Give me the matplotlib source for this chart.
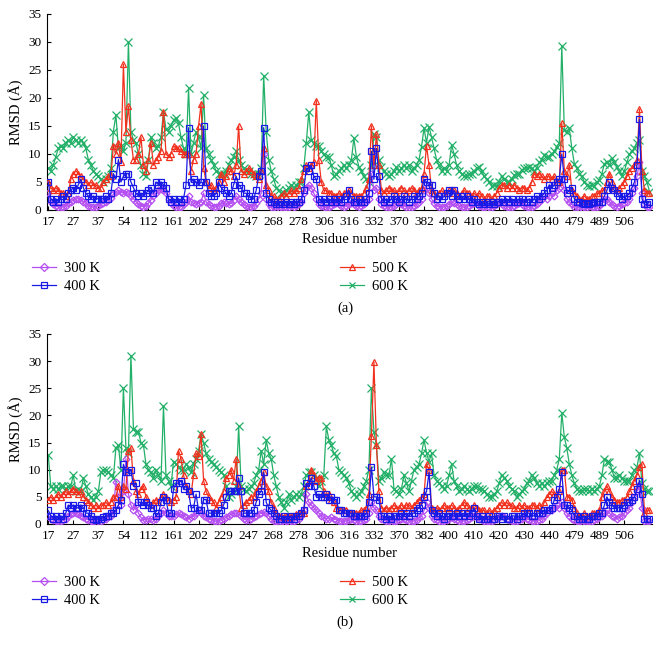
import matplotlib
matplotlib.use("Agg")
import matplotlib.pyplot as plt
import numpy as np

plt.rcParams['font.family'] = ['Liberation Serif', 'DejaVu Serif']

tick_labels = ['17', '27', '37', '54', '112', '161', '202', '229', '247', '268', '278', '306',
               '316', '332', '370', '382', '400', '410', '420', '430', '440', '479', '489', '506']
series_names = ['300 K', '400 K', '500 K', '600 K']

# panel (a)
a_300 = [3.0, 1.5, 1.0, 0.8, 0.6, 0.5, 0.6, 0.8, 1.2, 1.5,
         1.8, 2.0, 2.0, 1.8, 1.5, 1.2, 0.8, 0.6, 0.5, 0.6,
         0.8, 1.0, 1.2, 1.5, 1.8, 2.2, 2.8, 3.2, 3.5, 3.2,
         3.0, 3.3, 3.0, 2.5, 2.0, 1.5, 1.0, 0.8, 0.6, 0.8,
         1.2, 1.8, 2.5, 3.0, 3.5, 3.8, 3.5, 3.0, 2.0, 1.2,
         0.8, 0.6, 0.5, 0.6, 1.0, 1.5, 2.5, 1.5, 1.2, 1.0,
         1.2, 1.5, 3.0, 1.5, 1.0, 0.8, 0.6, 0.5, 0.8, 1.2,
         1.5, 1.2, 1.0, 1.2, 1.8, 2.5, 2.0, 1.5, 1.0, 0.8,
         0.6, 0.5, 0.8, 1.2, 2.0, 3.0, 10.0, 2.0, 1.0, 0.6,
         0.5, 0.4, 0.4, 0.5, 0.6, 0.5, 0.6, 0.8, 0.6, 0.8,
         1.0, 1.5, 3.0, 4.0, 4.5, 4.0, 3.0, 2.0, 1.0, 0.8,
         0.6, 0.5, 0.6, 0.8, 1.0, 1.2, 1.0, 0.8, 0.6, 0.8,
         1.0, 1.2, 1.0, 0.8, 0.6, 0.8, 1.0, 1.5, 2.0, 6.5,
         3.5, 4.0, 2.0, 1.0, 0.8, 0.6, 0.5, 0.6, 0.8, 1.0,
         1.2, 1.0, 0.8, 0.6, 0.5, 0.6, 0.8, 1.0, 1.5, 2.0,
         3.5, 4.0, 3.0, 2.0, 1.2, 0.8, 0.6, 0.5, 0.6, 0.8,
         1.0, 1.5, 1.2, 1.0, 0.8, 0.6, 0.5, 0.6, 0.8, 1.0,
         1.2, 1.0, 0.8, 0.6, 0.5, 0.4, 0.5, 0.6, 0.8, 1.0,
         1.2, 1.0, 0.8, 0.6, 0.5, 0.6, 0.8, 1.0, 1.2, 1.0,
         0.8, 0.6, 0.5, 0.6, 0.8, 1.0, 1.5, 2.0, 2.5, 2.0,
         2.5, 3.0, 2.5, 3.5, 4.0, 5.5, 3.5, 2.0, 1.5, 1.0,
         0.6, 0.5, 0.4, 0.4, 0.5, 0.6, 0.8, 0.6, 0.5, 0.6,
         0.8, 1.2, 2.0, 2.0, 1.5, 1.0, 0.8, 0.6, 0.8, 1.0,
         1.2, 1.5, 2.0, 3.0, 4.0, 6.0, 8.5, 3.0, 1.0, 0.5, 0.5]
a_400 = [5.0, 2.0, 1.5, 2.0, 1.5, 2.0, 2.5, 2.0, 3.0, 3.5,
         4.0, 3.5, 4.5, 5.5, 4.0, 3.0, 2.5, 2.0, 2.5, 2.0,
         2.0, 2.0, 2.0, 2.5, 2.0, 3.0, 6.5, 5.5, 9.0, 5.0,
         6.0, 6.5, 6.5, 5.0, 4.0, 3.0, 2.5, 3.0, 2.5, 3.0,
         3.5, 4.0, 3.0, 5.0, 4.5, 5.0, 4.5, 4.0, 2.0, 1.5,
         2.0, 1.5, 2.0, 1.5, 2.0, 4.5, 14.7, 5.0, 5.5, 5.0,
         4.5, 5.0, 15.0, 5.0, 3.0, 2.5, 2.5, 3.0, 5.0, 4.0,
         3.5, 3.0, 2.5, 3.0, 4.5, 6.0, 4.5, 4.0, 3.0, 3.0,
         2.5, 2.0, 2.0, 3.5, 6.0, 7.0, 14.7, 3.0, 2.0, 1.5,
         1.5, 1.0, 1.0, 1.5, 1.0, 1.5, 1.0, 1.5, 1.0, 1.5,
         1.5, 2.0, 3.5, 7.5, 7.0, 8.0, 6.0, 5.5, 2.0, 1.5,
         2.0, 1.5, 2.0, 1.5, 2.0, 1.5, 2.0, 1.5, 2.0, 2.5,
         3.5, 2.0, 1.5, 1.5, 2.0, 1.5, 1.5, 2.0, 3.0, 10.5,
         5.5, 11.0, 6.0, 2.0, 1.5, 2.0, 1.5, 2.0, 2.5, 2.0,
         1.5, 2.0, 2.5, 2.0, 1.5, 2.0, 2.5, 2.0, 2.5, 3.0,
         5.5, 5.0, 4.5, 4.5, 3.0, 2.0, 2.5, 2.0, 2.5, 3.0,
         3.5, 2.5, 3.5, 2.5, 2.0, 2.5, 2.0, 2.5, 2.0, 1.5,
         2.0, 1.5, 1.0, 1.5, 1.0, 1.5, 1.0, 1.5, 1.0, 1.5,
         1.5, 2.0, 1.5, 2.0, 1.5, 2.0, 1.5, 1.5, 2.0, 2.0,
         1.5, 1.5, 2.0, 1.5, 2.0, 2.5, 2.0, 2.5, 3.0, 3.5,
         4.5, 4.0, 4.5, 5.0, 5.5, 10.0, 5.5, 3.0, 3.5, 4.0,
         2.0, 1.5, 1.5, 1.2, 1.0, 1.2, 1.0, 1.2, 1.5, 1.5,
         1.5, 1.5, 2.5, 3.5, 5.0, 4.0, 3.5, 3.0, 2.5, 2.0,
         2.5, 2.5, 3.0, 4.0, 5.0, 8.0, 16.2, 2.0, 1.0, 1.0, 1.5]
a_500 = [5.0, 4.0, 3.5, 4.0, 3.5, 3.0, 3.0, 2.5, 3.0, 5.5,
         6.5, 7.0, 6.5, 6.0, 5.5, 5.0, 4.5, 5.0, 4.5, 4.5,
         4.0, 4.0, 5.0, 5.5, 6.0, 6.0, 11.5, 10.0, 12.0, 8.5,
         26.0, 14.0, 18.5, 12.5, 9.0, 9.0, 10.0, 13.0, 8.0, 7.0,
         9.0, 12.0, 8.0, 9.0, 9.5, 10.5, 17.5, 10.0, 9.5, 10.0,
         11.5, 11.0, 11.0, 10.5, 10.0, 10.0, 10.0, 7.0, 9.0, 10.0,
         15.0, 19.0, 7.5, 5.0, 4.0, 4.5, 3.5, 4.0, 5.0, 6.5,
         5.0, 6.0, 7.5, 7.0, 6.0, 8.0, 15.0, 7.0, 6.5, 7.0,
         7.5, 7.0, 6.5, 6.0, 5.5, 7.0, 11.0, 4.5, 3.5, 2.5,
         2.5, 2.0, 2.0, 2.5, 3.0, 2.5, 3.0, 3.5, 3.0, 3.5,
         4.0, 5.5, 7.0, 8.0, 7.5, 8.0, 8.5, 19.5, 9.0, 5.0,
         3.5, 3.5, 3.0, 3.0, 2.5, 2.5, 3.0, 2.5, 3.0, 3.0,
         3.5, 3.0, 2.5, 2.5, 2.5, 2.5, 3.0, 4.0, 5.5, 15.0,
         8.0, 13.5, 8.0, 3.5, 3.0, 3.5, 4.0, 3.5, 3.5, 3.0,
         3.5, 4.0, 3.5, 3.0, 3.5, 4.0, 3.5, 3.0, 3.5, 4.0,
         6.5, 11.5, 8.0, 3.5, 3.0, 2.5, 3.0, 3.5, 3.0, 3.0,
         3.5, 3.0, 3.5, 3.0, 2.5, 3.0, 3.5, 3.0, 3.0, 2.5,
         3.0, 2.5, 3.0, 2.5, 2.0, 2.5, 2.5, 2.0, 2.5, 3.0,
         4.0, 4.5, 4.5, 4.0, 4.5, 4.0, 4.5, 4.0, 3.5, 4.0,
         4.0, 3.5, 4.0, 5.0, 6.5, 6.0, 6.5, 6.0, 5.5, 6.0,
         6.0, 5.5, 6.0, 5.0, 5.0, 15.5, 7.0, 6.0, 8.0, 3.5,
         3.0, 2.5, 2.0, 2.0, 2.5, 2.0, 2.0, 2.5, 2.5, 3.0,
         3.0, 3.5, 3.5, 5.0, 6.5, 5.0, 4.0, 3.5, 4.0, 4.5,
         5.0, 6.0, 7.0, 7.5, 8.0, 9.0, 18.0, 7.0, 3.5, 3.0, 3.0]
a_600 = [7.5, 7.0, 8.0, 9.5, 11.0, 11.5, 11.0, 12.0, 12.5, 12.0,
         13.0, 12.5, 12.0, 12.5, 12.0, 11.0, 9.0, 8.0, 7.0, 6.5,
         6.0, 5.5, 5.0, 5.5, 6.0, 7.5, 14.0, 17.0, 11.0, 11.5,
         10.5, 12.0, 30.0, 14.0, 12.5, 12.0, 10.0, 8.0, 6.5, 6.0,
         9.0, 13.0, 12.0, 11.0, 11.5, 13.0, 17.5, 14.5, 14.0, 15.0,
         16.0, 16.5, 15.5, 13.0, 11.0, 10.0, 21.7, 10.0, 12.0, 14.0,
         13.0, 11.0, 20.5, 11.0, 10.0, 9.0, 8.0, 7.0, 6.5, 6.5,
         6.5, 7.0, 8.0, 9.0, 9.5, 10.5, 9.0, 8.0, 7.5, 7.0,
         7.0, 6.5, 6.5, 6.0, 6.5, 7.5, 24.0, 14.0, 9.0, 7.0,
         5.5, 4.0, 3.5, 3.0, 3.0, 3.5, 4.0, 4.5, 4.0, 4.5,
         5.0, 5.0, 7.5, 12.0, 17.5, 12.5, 12.0, 11.5, 11.5, 10.5,
         10.0, 9.5, 9.5, 8.0, 6.0, 6.5, 7.0, 7.5, 8.0, 7.5,
         8.0, 9.0, 12.8, 9.5, 7.7, 7.0, 6.0, 5.5, 5.0, 8.0,
         13.5, 13.0, 9.0, 7.7, 7.0, 6.5, 6.0, 6.5, 7.0, 7.7,
         7.0, 7.5, 8.0, 7.5, 8.0, 7.0, 7.5, 8.0, 9.0, 11.3,
         14.6, 12.0, 14.9, 13.0, 11.0, 9.0, 8.0, 7.0, 7.5, 7.0,
         8.0, 11.6, 10.0, 8.0, 7.0, 6.5, 6.0, 6.0, 6.5, 6.5,
         7.0, 7.5, 7.7, 7.0, 6.0, 5.5, 5.0, 4.2, 4.5, 4.2,
         5.0, 6.0, 5.5, 5.0, 5.0, 5.5, 6.2, 6.5, 6.5, 7.1,
         7.5, 7.5, 7.7, 7.5, 7.0, 7.5, 8.5, 9.0, 9.8, 9.5,
         9.5, 10.0, 10.5, 11.3, 12.0, 29.3, 14.3, 14.0, 14.6, 11.0,
         8.3, 7.5, 6.5, 6.0, 5.0, 4.5, 4.2, 4.5, 4.2, 5.0,
         5.4, 6.5, 8.3, 8.5, 8.0, 9.2, 8.5, 7.7, 7.0, 6.0,
         7.0, 8.5, 10.0, 10.5, 11.0, 12.0, 12.5, 7.0, 6.0, 5.0, 3.3]

# panel (b)
b_300 = [1.5, 1.0, 0.8, 0.6, 0.5, 0.6, 0.8, 1.0, 1.5, 1.8,
         2.0, 2.0, 1.8, 1.5, 1.2, 1.0, 0.8, 0.6, 0.5, 0.4,
         0.5, 0.6, 0.8, 1.0, 1.2, 1.5, 2.5, 7.8, 5.0, 3.5,
         6.0, 12.0, 5.5, 3.5, 2.5, 3.5, 2.0, 1.2, 0.8, 0.8,
         1.0, 1.0, 0.8, 1.0, 1.5, 2.0, 2.5, 2.0, 1.5, 1.5,
         1.5, 1.8, 2.0, 1.8, 1.5, 1.2, 1.0, 1.2, 1.5, 2.0,
         2.5, 2.0, 1.5, 1.2, 1.0, 0.8, 0.6, 0.5, 0.6, 0.8,
         1.0, 1.2, 1.5, 1.8, 2.0, 2.0, 1.8, 1.5, 1.0, 0.8,
         0.8, 1.0, 1.2, 1.5, 1.8, 2.0, 2.2, 2.0, 1.5, 1.0,
         0.6, 0.5, 0.4, 0.3, 0.4, 0.5, 0.4, 0.5, 0.6, 0.8,
         1.0, 1.5, 2.5, 5.5, 4.0, 3.5, 3.0, 2.5, 2.0, 1.5,
         1.2, 1.0, 1.0, 1.2, 1.0, 0.8, 0.6, 0.5, 0.5, 0.6,
         0.8, 1.0, 0.8, 0.6, 0.5, 0.6, 0.8, 1.0, 2.0, 4.0,
         3.0, 2.5, 1.5, 1.0, 0.8, 0.6, 0.5, 0.4, 0.5, 0.6,
         0.8, 1.0, 1.0, 0.8, 0.6, 0.5, 0.6, 0.8, 1.2, 1.5,
         2.5, 4.0, 3.0, 1.5, 1.0, 0.8, 0.6, 0.5, 0.6, 0.8,
         1.0, 1.2, 1.0, 0.8, 0.6, 0.5, 0.6, 0.8, 1.0, 1.2,
         1.5, 1.2, 1.0, 0.8, 0.6, 0.5, 0.5, 0.6, 0.8, 1.0,
         1.2, 1.5, 1.2, 1.0, 0.8, 0.6, 0.5, 0.6, 0.8, 1.0,
         1.2, 1.0, 0.8, 0.6, 0.5, 0.6, 0.8, 1.0, 1.5, 2.0,
         2.5, 2.5, 3.0, 3.5, 3.0, 4.0, 3.0, 2.0, 1.5, 1.0,
         0.8, 0.6, 0.5, 0.4, 0.5, 0.6, 0.5, 0.6, 0.8, 1.0,
         1.2, 1.5, 2.0, 2.5, 2.0, 1.5, 1.2, 1.0, 1.2, 1.5,
         2.0, 2.5, 3.0, 4.0, 5.0, 6.0, 7.0, 3.0, 0.5, 0.5, 0.5]
b_400 = [2.5, 1.5, 1.0, 1.5, 1.0, 1.5, 1.0, 2.0, 3.5, 3.0,
         3.5, 3.0, 3.0, 3.5, 3.0, 2.0, 2.0, 1.5, 1.0, 0.8,
         1.0, 1.0, 1.2, 1.5, 1.5, 2.0, 2.0, 2.5, 3.5, 4.5,
         11.0, 9.5, 9.5, 10.0, 7.0, 7.5, 4.0, 4.0, 3.5, 4.0,
         3.5, 3.0, 3.0, 1.5, 2.0, 4.0, 5.0, 4.5, 2.0, 2.0,
         6.5, 7.5, 7.5, 8.0, 6.5, 7.0, 6.0, 3.0, 3.0, 5.5,
         2.5, 2.5, 4.5, 4.5, 2.0, 2.0, 2.0, 2.0, 2.0, 2.5,
         3.5, 5.0, 6.0, 6.0, 6.0, 6.0, 8.5, 6.0, 2.0, 2.0,
         2.0, 2.0, 2.5, 4.0, 5.5, 6.0, 9.5, 4.0, 3.0, 2.5,
         2.0, 1.5, 1.0, 1.0, 1.5, 1.0, 1.0, 1.5, 1.0, 1.5,
         1.5, 2.0, 2.5, 7.5, 7.0, 8.5, 7.0, 5.0, 5.5, 5.0,
         5.0, 5.5, 4.5, 5.0, 4.5, 4.5, 2.5, 2.5, 2.0, 2.0,
         2.0, 2.0, 1.5, 1.5, 1.5, 1.5, 1.5, 2.0, 4.0, 10.5,
         5.0, 5.0, 4.5, 1.5, 1.5, 1.0, 1.5, 1.0, 1.5, 1.5,
         1.5, 2.0, 1.5, 2.0, 1.5, 2.0, 2.0, 2.5, 3.0, 3.5,
         5.0, 6.0, 9.5, 2.5, 2.0, 1.5, 2.0, 1.5, 1.0, 1.5,
         2.0, 1.5, 1.5, 2.0, 1.5, 2.0, 1.5, 2.0, 1.5, 2.0,
         3.0, 1.5, 1.0, 1.5, 1.0, 1.0, 1.5, 1.0, 1.0, 1.5,
         1.5, 1.0, 1.5, 1.0, 1.0, 1.5, 1.5, 1.0, 1.5, 1.5,
         2.0, 2.0, 2.0, 1.5, 1.5, 2.0, 2.0, 2.0, 2.5, 2.5,
         2.5, 3.0, 4.5, 5.0, 6.5, 9.5, 3.5, 3.5, 3.0, 2.5,
         1.5, 1.5, 1.0, 1.0, 1.5, 1.0, 1.0, 1.5, 1.5, 1.5,
         2.0, 2.0, 3.5, 5.0, 4.0, 3.5, 3.0, 3.0, 3.0, 3.0,
         3.5, 4.0, 4.0, 4.5, 5.0, 6.5, 8.0, 5.5, 1.0, 1.0, 1.0]
b_500 = [4.5, 5.0, 4.5, 5.0, 5.5, 5.0, 5.5, 6.0, 5.5, 6.0,
         6.5, 6.0, 5.5, 6.0, 5.0, 4.5, 4.0, 3.5, 3.0, 3.5,
         3.0, 3.5, 3.5, 4.0, 3.5, 4.0, 5.0, 5.0, 7.0, 5.0,
         7.0, 6.5, 13.5, 14.0, 8.0, 6.0, 5.5, 6.5, 7.0, 5.0,
         4.0, 3.5, 4.0, 4.5, 4.0, 5.0, 5.5, 5.0, 4.5, 4.0,
         4.5, 5.0, 13.5, 12.0, 9.0, 7.0, 6.0, 5.5, 9.0, 13.0,
         12.5, 16.5, 8.0, 6.0, 5.0, 4.5, 4.0, 3.0, 4.0, 5.0,
         6.0, 8.5, 9.0, 10.0, 8.0, 12.0, 7.0, 3.0, 3.5, 4.0,
         4.5, 5.0, 5.0, 6.0, 7.0, 8.0, 9.5, 7.0, 6.0, 4.0,
         3.0, 2.0, 1.5, 1.5, 1.2, 1.5, 1.2, 1.5, 1.5, 1.8,
         2.0, 2.0, 2.0, 7.0, 8.0, 10.0, 9.0, 8.0, 8.5, 8.5,
         6.0, 5.0, 5.5, 4.5, 4.0, 3.0, 2.5, 2.5, 2.5, 2.5,
         2.0, 2.0, 2.0, 2.0, 2.0, 2.5, 2.5, 3.0, 5.5, 16.2,
         29.8, 14.5, 6.0, 3.0, 2.5, 3.0, 2.5, 3.0, 3.5, 3.0,
         3.0, 3.5, 3.0, 3.5, 3.5, 3.0, 3.5, 4.0, 4.5, 5.0,
         5.5, 11.0, 10.0, 3.0, 2.5, 3.0, 2.5, 3.0, 3.5, 3.0,
         3.0, 3.5, 3.0, 2.5, 3.0, 3.5, 4.0, 3.5, 3.0, 3.0,
         3.5, 3.0, 2.5, 2.5, 2.5, 2.0, 2.5, 2.0, 2.5, 3.0,
         3.5, 4.0, 3.5, 4.0, 3.5, 3.5, 3.0, 3.0, 3.5, 3.0,
         3.5, 3.0, 3.0, 3.5, 3.5, 3.0, 3.5, 3.0, 4.0, 5.0,
         5.5, 6.0, 5.5, 5.0, 6.0, 10.0, 10.0, 5.0, 5.0, 4.5,
         3.0, 2.0, 1.5, 1.5, 2.0, 1.5, 1.5, 2.0, 2.0, 2.0,
         2.5, 5.0, 6.0, 7.0, 6.0, 5.0, 4.5, 4.0, 4.0, 4.5,
         4.5, 5.0, 6.0, 7.0, 8.0, 9.0, 10.5, 11.0, 2.0, 2.5, 2.5]
b_600 = [12.7, 7.0, 6.5, 7.0, 6.5, 7.0, 7.0, 6.5, 7.0, 7.0,
         9.0, 6.0, 6.5, 6.0, 8.5, 7.0, 5.5, 5.0, 4.5, 5.0,
         6.0, 9.5, 10.0, 10.0, 9.5, 9.0, 8.5, 14.0, 14.5, 10.0,
         25.0, 14.0, 13.0, 31.0, 17.5, 17.0, 17.0, 15.0, 14.5, 11.0,
         10.0, 9.5, 8.5, 10.0, 9.0, 8.0, 21.7, 9.0, 8.0, 7.0,
         11.5, 11.0, 10.5, 10.0, 10.0, 11.0, 10.5, 9.5, 11.0, 12.0,
         13.5, 16.5, 15.0, 13.0, 12.0, 11.5, 11.0, 10.5, 10.0, 9.5,
         9.0, 7.0, 5.0, 5.5, 6.0, 7.0, 18.0, 7.0, 6.5, 6.0,
         6.5, 7.0, 7.5, 9.0, 10.0, 13.5, 11.0, 15.5, 13.0, 12.0,
         9.0, 7.0, 5.0, 4.0, 3.0, 4.0, 5.5, 4.5, 5.0, 5.5,
         5.0, 5.5, 7.0, 9.0, 9.5, 9.5, 9.0, 8.5, 7.0, 8.0,
         9.0, 18.0, 15.5, 14.5, 13.0, 12.5, 10.0, 9.5, 9.0, 8.5,
         7.5, 6.0, 5.5, 5.0, 5.5, 6.0, 7.0, 8.0, 10.0, 25.0,
         17.0, 14.5, 8.0, 8.5, 9.5, 9.0, 9.0, 12.0, 6.5, 6.0,
         5.5, 6.5, 9.0, 7.5, 6.0, 8.0, 10.0, 10.5, 11.0, 13.0,
         15.5, 13.0, 11.5, 13.0, 9.0, 8.0, 7.5, 7.0, 6.5, 7.0,
         9.0, 11.0, 8.0, 7.0, 6.0, 6.5, 7.0, 6.5, 6.0, 6.5,
         7.0, 7.0, 6.5, 6.5, 6.0, 5.5, 5.0, 5.0, 5.5, 6.0,
         7.5, 9.0, 8.5, 8.0, 7.0, 6.5, 6.0, 5.0, 5.5, 6.0,
         6.5, 7.5, 8.0, 9.0, 8.5, 7.5, 7.0, 7.5, 7.0, 7.5,
         8.0, 8.0, 9.0, 10.0, 12.0, 20.5, 16.0, 14.0, 11.0, 9.0,
         7.5, 6.5, 6.0, 6.0, 6.5, 6.5, 6.0, 6.5, 6.0, 6.5,
         7.0, 9.0, 12.0, 11.5, 11.5, 10.0, 8.5, 8.5, 9.0, 8.5,
         8.0, 8.0, 8.0, 9.0, 10.0, 10.5, 13.0, 7.5, 6.5, 6.0, 6.0]

colors = ['#B54EF2', '#1A1AE6', '#F2301E', '#22B068']
markers = ['D', 's', '^', 'x']
msizes = [3.5, 4.5, 5.0, 6.0]
zorders = [3, 4, 3.5, 2]

fig = plt.figure(figsize=(6.62, 6.5), dpi=100)

W, H = 662.0, 650.0
panels = [
    ([a_300, a_400, a_500, a_600], 14, 210, '(a)'),
    ([b_300, b_400, b_500, b_600], 334, 524, '(b)'),
]

for data, top, bottom, tag in panels:
    ax = fig.add_axes([47 / W, 1 - bottom / H, (652 - 47) / W, (bottom - top) / H])
    handles = []
    for vals, name, c, m, ms, z in zip(data, series_names, colors, markers, msizes, zorders):
        x = np.arange(len(vals))
        h, = ax.plot(x, vals, color=c, lw=0.9, marker=m, ms=ms, mfc='none',
                     mec=c, mew=0.9, label=name, zorder=z)
        handles.append(h)
    ax.set_xlim(-0.5, 241)
    ax.set_ylim(0, 35)
    ax.set_yticks(range(0, 36, 5))
    ax.set_xticks(np.arange(0, 240, 10))
    ax.set_xticklabels(tick_labels)
    ax.tick_params(direction='in', length=3, width=0.8, labelsize=9.5, pad=4)
    ax.spines['top'].set_visible(False)
    ax.spines['right'].set_visible(False)
    ax.set_ylabel('RMSD (Å)', fontsize=10.5, labelpad=4)
    ax.set_xlabel('Residue number', fontsize=10.5, labelpad=4)

    leg_y = 1 - (bottom + 42) / H
    l1 = fig.legend(handles[:2], series_names[:2], loc='upper left',
                    bbox_to_anchor=(22 / W, leg_y), frameon=False, fontsize=10.5,
                    handlelength=1.6, handletextpad=0.6, labelspacing=0.3,
                    borderpad=0.2)
    l2 = fig.legend(handles[2:], series_names[2:], loc='upper left',
                    bbox_to_anchor=(330 / W, leg_y), frameon=False, fontsize=10.5,
                    handlelength=1.6, handletextpad=0.6, labelspacing=0.3,
                    borderpad=0.2)
    for leg in (l1, l2):
        for line in leg.get_lines():
            line.set_markersize(4)
    fig.text(345 / W, 1 - (bottom + 98) / H, tag, ha='center', va='center', fontsize=10.5)

fig.savefig('out.png', dpi=100)
